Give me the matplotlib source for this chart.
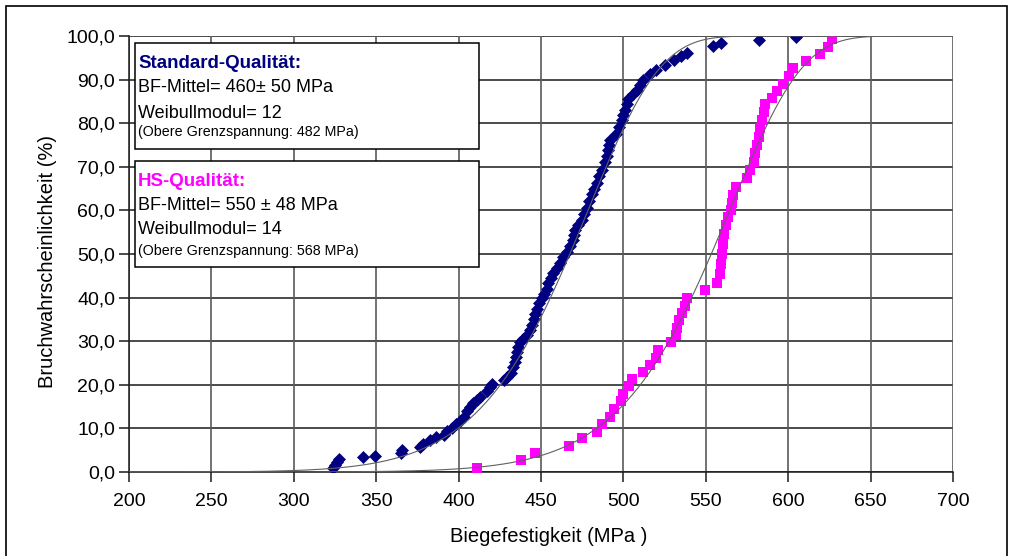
import numpy as np
import matplotlib
matplotlib.use("Agg")
import matplotlib.pyplot as plt
from matplotlib.patches import Rectangle

plt.rcParams['font.family'] = ['Liberation Sans', 'DejaVu Sans']

# ---------------- data ----------------
std_strength = [324, 325, 326.5, 327.5, 342, 349.5, 365, 365.5, 376.5, 378.5, 382.5, 386.5,
                391, 393, 396, 398.5, 401, 403, 405, 407, 409, 411, 413, 417, 419, 420,
                427.5, 429.5, 432, 433.2, 434, 434.8, 435.3, 436, 437.3, 439, 441.3, 443.3,
                444.5, 445.5, 446.4, 447.5, 449, 450.5, 452, 453.5, 454.5, 456, 457.5, 459.5,
                461.5, 463.5, 465.5, 467.5, 469.6, 470.2, 470.8, 472.6, 474.6, 476, 477.7,
                479.2, 480.7, 482.2, 483.7, 485.2, 486.8, 488.8, 489.8, 490.8, 491.3, 492,
                495.5, 497.5, 499, 500, 501, 502, 503, 506, 508, 510, 512, 516, 520, 525,
                531, 535, 538.5, 554.5, 559.5, 582.5, 604.5]
std_prob = [0.9, 1.6, 2.4, 2.9, 3.4, 3.7, 4.4, 5.0, 5.8, 6.4, 7.3, 8.0,
            8.6, 9.3, 10.0, 11.0, 11.8, 12.7, 14.0, 14.8, 15.8, 16.6, 17.3, 18.5, 19.5, 20.2,
            21.1, 21.9, 22.6, 24.0, 25.2, 26.4, 27.5, 28.7, 29.9, 30.6, 31.4, 32.6,
            33.8, 35.0, 36.3, 37.5, 38.7, 39.8, 40.8, 42.0, 43.3, 44.5, 45.7, 46.8,
            48.0, 49.2, 50.5, 51.8, 53.2, 54.4, 55.5, 56.6, 57.8, 59.2, 60.6,
            62.2, 63.8, 65.0, 66.2, 67.8, 69.3, 71.2, 72.5, 73.9, 75.0, 76.1,
            77.6, 79.2, 80.7, 81.8, 83.0, 84.3, 85.6, 86.8, 87.6, 88.8, 89.9, 91.2, 92.2, 93.3,
            94.5, 95.3, 96.2, 97.6, 98.3, 99.0, 99.8]

hs_strength = [411, 438, 446.5, 467, 475, 484, 487, 492, 494, 498.5, 499.5, 503.5, 505, 512,
               516, 520, 521, 529, 532, 532.5, 534, 535.5, 537.5, 538.5, 549.5, 556.5, 558.5,
               559.5, 560, 560.5, 561, 562, 563.5, 565.4, 566, 566.8, 568.5, 575, 577, 579,
               580, 581, 582, 583, 584, 585.5, 586, 590, 593, 597, 600.5, 602.7, 611, 619,
               624, 626.6]
hs_prob = [0.9, 2.7, 4.4, 6.0, 7.7, 9.2, 10.9, 12.7, 14.4, 16.2, 18.0, 19.7, 21.4, 23.0,
           24.6, 26.2, 28.0, 29.8, 31.4, 33.0, 34.8, 36.5, 38.1, 39.8, 41.7, 43.3, 45.3,
           47.8, 50.1, 52.4, 54.7, 56.7, 58.5, 60.2, 61.8, 63.5, 65.4, 67.4, 69.3, 71.1,
           73.2, 75.0, 76.8, 78.9, 80.7, 82.6, 84.3, 85.8, 87.3, 89.0, 90.8, 92.6, 94.3, 95.9,
           97.5, 99.3]

# Weibull model parameters (modulus as stated in the chart, scale)
std_modulus, std_scale = 12, 482
hs_modulus, hs_scale = 14, 568

x_ticks = [200, 250, 300, 350, 400, 450, 500, 550, 600, 650, 700]
y_ticks = [0, 10, 20, 30, 40, 50, 60, 70, 80, 90, 100]
y_tick_labels = ["0,0", "10,0", "20,0", "30,0", "40,0", "50,0", "60,0", "70,0", "80,0", "90,0", "100,0"]

box_std = ["Standard-Qualität:", "BF-Mittel= 460± 50 MPa", "Weibullmodul= 12",
           "(Obere Grenzspannung: 482 MPa)"]
box_hs = ["HS-Qualität:", "BF-Mittel= 550 ± 48 MPa", "Weibullmodul= 14",
          "(Obere Grenzspannung: 568 MPa)"]

# ---------------- figure ----------------
W, H = 1013, 556
fig = plt.figure(figsize=(W / 100, H / 100), dpi=100)
ax = fig.add_axes([129 / W, 1 - 472 / H, (953 - 129) / W, (472 - 36) / H])

ax.set_xlim(200, 700)
ax.set_ylim(0, 100)

# grid
for yv in y_ticks:
    ax.axhline(yv, color='#1a1a1a', lw=1.1, zorder=1)
for xv in x_ticks:
    ax.axvline(xv, color='#5a5a5a', lw=1.2, zorder=1)

xx = np.linspace(200, 700, 600)
std_fit = 100 * (1 - np.exp(-(xx / std_scale) ** std_modulus))
hs_fit = 100 * (1 - np.exp(-(xx / hs_scale) ** hs_modulus))

ax.plot(std_strength, std_prob, linestyle='none', marker='D', ms=6.3,
        color='#000080', mec='#000080', mew=0.5, zorder=3)
ax.plot(hs_strength, hs_prob, linestyle='none', marker='s', ms=7.0,
        color='#FF00FF', mec='#FF00FF', mew=0, zorder=3)
ax.plot(xx, std_fit, color='#606060', lw=0.8, zorder=4)
ax.plot(xx, hs_fit, color='#606060', lw=0.8, zorder=4)

ax.set_xticks(x_ticks)
ax.set_yticks(y_ticks)
ax.set_yticklabels(y_tick_labels)
ax.tick_params(axis='both', direction='out', length=7, width=1.1, color='#1a1a1a',
               labelsize=14, pad=3)
ax.tick_params(axis='x', pad=8)

for s in ['top', 'right']:
    ax.spines[s].set_visible(False)
ax.spines['left'].set_color('#1a1a1a')
ax.spines['left'].set_linewidth(1.1)
ax.spines['bottom'].set_color('#1a1a1a')
ax.spines['bottom'].set_linewidth(1.1)

ax.set_xlabel("Biegefestigkeit (MPa )", fontsize=14.5)
ax.set_ylabel("Bruchwahrscheinlichkeit (%)", fontsize=14.5)
ax.xaxis.set_label_coords((549 - 129) / 824, (472 - 537) / 436)
ax.yaxis.set_label_coords((47 - 129) / 824, (472 - 262) / 436)
ax.xaxis.label.set_va('center')
ax.yaxis.label.set_va('center')

# ---------------- text boxes (figure pixel coords) ----------------
def fx(px):
    return px / W

def fy(py):
    return 1 - py / H

for top, bottom in [(43, 149), (161, 267)]:
    fig.patches.append(Rectangle((fx(135), fy(bottom)), fx(479) - fx(135), fy(top) - fy(bottom),
                                 transform=fig.transFigure, facecolor='white',
                                 edgecolor='black', lw=1.1, zorder=5))

def box_text(lines, ys, color):
    sizes = [13.5, 13, 13, 10.3]
    for i, (t, yy) in enumerate(zip(lines, ys)):
        fig.text(fx(138), fy(yy), t, fontsize=sizes[i], va='center', ha='left',
                 fontweight='bold' if i == 0 else 'normal',
                 color=color if i == 0 else 'black', zorder=6)

box_text(box_std, [63, 88, 113, 132], '#000080')
box_text(box_hs, [182, 206, 230, 251], '#FF00FF')

# outer frame
fig.patches.append(Rectangle((fx(6), -0.05), fx(1007) - fx(6), fy(6) + 0.05,
                             transform=fig.transFigure, facecolor='none',
                             edgecolor='black', lw=1.2, zorder=0))

fig.savefig("out.png", dpi=100)
